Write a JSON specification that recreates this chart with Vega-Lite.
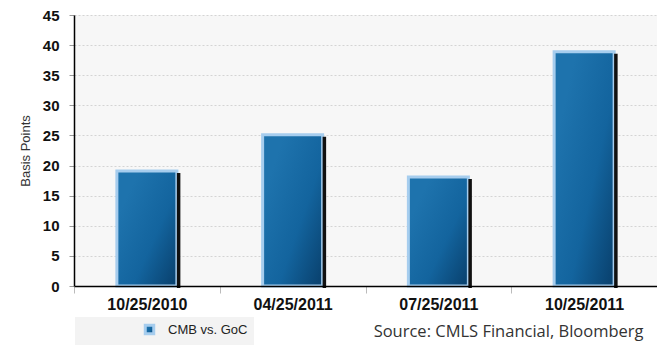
{
  "$schema": "https://vega.github.io/schema/vega-lite/v6.json",
  "width": 583,
  "height": 271,
  "autosize": {"type": "none"},
  "padding": {"left": 74, "top": 15, "right": 0, "bottom": 59},
  "background": "white",
  "config": {
    "view": {"fill": "#f7f7f7", "stroke": null},
    "font": "Liberation Sans"
  },
  "data": {
    "values": [
      {"date": "10/25/2010", "bps": 19.1, "series": "CMB vs. GoC"},
      {"date": "04/25/2011", "bps": 25.1, "series": "CMB vs. GoC"},
      {"date": "07/25/2011", "bps": 18.1, "series": "CMB vs. GoC"},
      {"date": "10/25/2011", "bps": 38.9, "series": "CMB vs. GoC"}
    ]
  },
  "encoding": {
    "x": {
      "field": "date",
      "type": "nominal",
      "sort": null,
      "scale": {"paddingInner": 0, "paddingOuter": 0},
      "axis": {
        "title": "Source: CMLS Financial, Bloomberg",
        "titleFont": "Open Sans",
        "titleFontSize": 16.5,
        "titleFontWeight": "normal",
        "titleColor": "#333333",
        "titleX": 569,
        "titleY": 50,
        "titleAlign": "right",
        "titleBaseline": "alphabetic",
        "labelAngle": 0,
        "labelFontSize": 16,
        "labelFontWeight": "bold",
        "labelColor": "#111111",
        "labelPadding": 3,
        "tickSize": 7,
        "tickColor": "#bbbbbb",
        "tickBand": "extent",
        "domainColor": "#000000",
        "domainWidth": 1.5,
        "grid": false,
        "zindex": 1
      }
    },
    "y": {
      "field": "bps",
      "type": "quantitative",
      "scale": {"domain": [0, 45], "nice": false},
      "axis": {
        "values": [0, 5, 10, 15, 20, 25, 30, 35, 40, 45],
        "title": "Basis Points",
        "titleFontSize": 13,
        "titleFontWeight": "normal",
        "titleColor": "#333333",
        "titleX": -49,
        "titleY": 135.5,
        "titleBaseline": "middle",
        "labelFontSize": 15,
        "labelFontWeight": "bold",
        "labelColor": "#111111",
        "labelPadding": 10,
        "tickSize": 5,
        "tickColor": "#999999",
        "domainColor": "#000000",
        "domainWidth": 1.5,
        "gridColor": "#d4d4d4",
        "gridDash": [2, 2],
        "gridWidth": 1
      }
    }
  },
  "layer": [
    {
      "mark": {
        "type": "bar",
        "width": 60,
        "strokeWidth": 3,
        "fill": {
          "gradient": "linear",
          "x1": 0.1, "y1": 0.3, "x2": 0.9, "y2": 1,
          "stops": [
            {"offset": 0, "color": "#1e73ad"},
            {"offset": 0.55, "color": "#13649e"},
            {"offset": 1, "color": "#0a4472"}
          ]
        }
      },
      "encoding": {
        "stroke": {
          "field": "series",
          "type": "nominal",
          "scale": {"range": ["#a6cdee"]},
          "legend": {
            "orient": "none",
            "legendX": 1,
            "legendY": 302,
            "title": null,
            "padding": 6,
            "fillColor": "#f3f3f3",
            "symbolType": "square",
            "symbolSize": 72,
            "symbolStrokeWidth": 3,
            "symbolFillColor": "#1566a1",
            "symbolOffset": 62,
            "labelOffset": 12,
            "labelFontSize": 13,
            "labelColor": "#222222"
          }
        }
      }
    },
    {
      "mark": {
        "type": "bar",
        "width": 3.5,
        "xOffset": 31.75,
        "yOffset": 2,
        "y2Offset": 2,
        "fill": "#111111"
      }
    }
  ]
}
